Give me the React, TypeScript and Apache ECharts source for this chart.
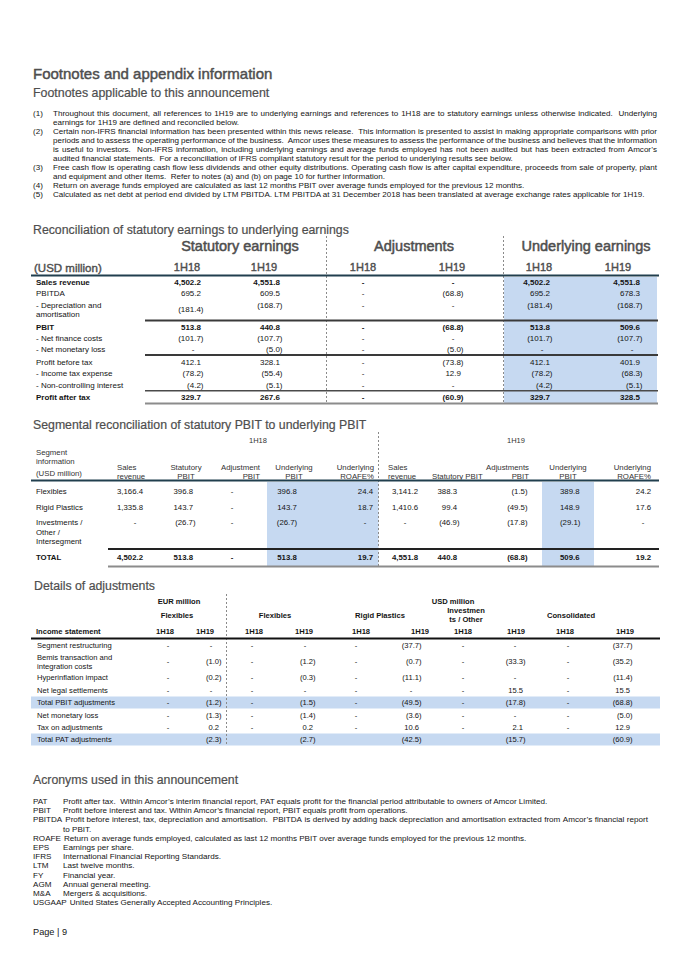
import React, { useEffect, useRef } from "react";
import * as echarts from "echarts";

// ---------------- DATA ----------------
const pageTitle = "Footnotes and appendix information";
const footnoteHeading = "Footnotes applicable to this announcement";
const footnoteMarks = ["(1)", "(2)", "(3)", "(4)", "(5)"];
const footnoteText: string[][] = [
  [
    "Throughout this document, all references to 1H19 are to underlying earnings and references to 1H18 are to statutory earnings unless otherwise indicated.  Underlying",
    "earnings for 1H19 are defined and reconciled below.",
  ],
  [
    "Certain non-IFRS financial information has been presented within this news release.  This information is presented to assist in making appropriate comparisons with prior",
    "periods and to assess the operating performance of the business.  Amcor uses these measures to assess the performance of the business and believes that the information",
    "is useful to investors.  Non-IFRS information, including underlying earnings and average funds employed has not been audited but has been extracted from Amcor’s",
    "audited financial statements.  For a reconciliation of IFRS compliant statutory result for the period to underlying results see below.",
  ],
  [
    "Free cash flow is operating cash flow less dividends and other equity distributions. Operating cash flow is after capital expenditure, proceeds from sale of property, plant",
    "and equipment and other items.  Refer to notes (a) and (b) on page 10 for further information.",
  ],
  ["Return on average funds employed are calculated as last 12 months PBIT over average funds employed for the previous 12 months."],
  ["Calculated as net debt at period end divided by LTM PBITDA. LTM PBITDA at 31 December 2018 has been translated at average exchange rates applicable for 1H19."],
];

const sectionTitles = [
  "Reconciliation of statutory earnings to underlying earnings",
  "Segmental reconciliation of statutory PBIT to underlying PBIT",
  "Details of adjustments",
  "Acronyms used in this announcement",
];
const periods = ["1H18", "1H19"];

// Table 1: reconciliation
type Cell = number | null | undefined; // null = "-", undefined = blank
const reconGroups = ["Statutory earnings", "Adjustments", "Underlying earnings"];
const reconUnit = "(USD million)";
const reconRows = [
  "Sales revenue",
  "PBITDA",
  "- Depreciation and\namortisation",
  "PBIT",
  "- Net finance costs",
  "- Net monetary loss",
  "Profit before tax",
  "- Income tax expense",
  "- Non-controlling interest",
  "Profit after tax",
];
const statutory1H18: Cell[] = [4502.2, 695.2, -181.4, 513.8, -101.7, null, 412.1, -78.2, -4.2, 329.7];
const statutory1H19: Cell[] = [4551.8, 609.5, -168.7, 440.8, -107.7, -5.0, 328.1, -55.4, -5.1, 267.6];
const adjustments1H18: Cell[] = [null, null, null, null, null, null, null, null, null, null];
const adjustments1H19: Cell[] = [null, -68.8, null, -68.8, null, -5.0, -73.8, 12.9, null, -60.9];
const underlying1H18: Cell[] = [4502.2, 695.2, -181.4, 513.8, -101.7, null, 412.1, -78.2, -4.2, 329.7];
const underlying1H19: Cell[] = [4551.8, 678.3, -168.7, 509.6, -107.7, null, 401.9, -68.3, -5.1, 328.5];

// Table 2: segmental reconciliation
const segmentUnit = ["Segment", "information", "(USD million)"];
const segmentColumnHeads = [
  ["Sales", "revenue"],
  ["Statutory", "PBIT"],
  ["Adjustment", "PBIT"],
  ["Underlying", "PBIT"],
  ["Underlying", "ROAFE%"],
  ["Sales", "revenue"],
  ["", "Statutory PBIT"],
  ["Adjustments", "PBIT"],
  ["Underlying", "PBIT"],
  ["Underlying", "ROAFE%"],
];
const segmentRows = ["Flexibles", "Rigid Plastics", "Investments /\nOther /\nIntersegment", "TOTAL"];
const salesRevenue1H18: Cell[] = [3166.4, 1335.8, null, 4502.2];
const statutoryPbit1H18: Cell[] = [396.8, 143.7, -26.7, 513.8];
const adjustmentPbit1H18: Cell[] = [null, null, null, null];
const underlyingPbit1H18: Cell[] = [396.8, 143.7, -26.7, 513.8];
const underlyingRoafe1H18: Cell[] = [24.4, 18.7, null, 19.7];
const salesRevenue1H19: Cell[] = [3141.2, 1410.6, null, 4551.8];
const statutoryPbit1H19: Cell[] = [388.3, 99.4, -46.9, 440.8];
const adjustmentPbit1H19: Cell[] = [-1.5, -49.5, -17.8, -68.8];
const underlyingPbit1H19: Cell[] = [389.8, 148.9, -29.1, 509.6];
const underlyingRoafe1H19: Cell[] = [24.2, 17.6, null, 19.2];

// Table 3: details of adjustments
const adjCurrencies = ["EUR million", "USD million"];
const adjSegments = ["Flexibles", "Flexibles", "Rigid Plastics", "Investmen\nts / Other", "Consolidated"];
const adjRowHead = "Income statement";
const adjRows = [
  "Segment restructuring",
  "Bemis transaction and\nintegration costs",
  "Hyperinflation impact",
  "Net legal settlements",
  "Total PBIT adjustments",
  "Net monetary loss",
  "Tax on adjustments",
  "Total PAT adjustments",
];
const eurFlexibles1H18: Cell[] = [null, null, null, null, null, null, null, undefined];
const eurFlexibles1H19: Cell[] = [null, -1.0, -0.2, null, -1.2, -1.3, 0.2, -2.3];
const usdFlexibles1H18: Cell[] = [null, null, null, null, null, null, null, undefined];
const usdFlexibles1H19: Cell[] = [null, -1.2, -0.3, null, -1.5, -1.4, 0.2, -2.7];
const rigidPlastics1H18: Cell[] = [null, null, null, null, null, null, null, undefined];
const rigidPlastics1H19: Cell[] = [-37.7, -0.7, -11.1, null, -49.5, -3.6, 10.6, -42.5];
const investments1H18: Cell[] = [null, null, null, null, null, null, null, undefined];
const investments1H19: Cell[] = [null, -33.3, null, 15.5, -17.8, null, 2.1, -15.7];
const consolidated1H18: Cell[] = [null, null, null, null, null, null, null, undefined];
const consolidated1H19: Cell[] = [-37.7, -35.2, -11.4, 15.5, -68.8, -5.0, 12.9, -60.9];

// Acronyms
const acronymTerms = ["PAT", "PBIT", "PBITDA", "ROAFE", "EPS", "IFRS", "LTM", "FY", "AGM", "M&A", "USGAAP"];
const acronymDefinitions: string[][] = [
  ["Profit after tax.  Within Amcor’s interim financial report, PAT equals profit for the financial period attributable to owners of Amcor Limited."],
  ["Profit before interest and tax. Within Amcor’s financial report, PBIT equals profit from operations."],
  [
    "Profit before interest, tax, depreciation and amortisation.  PBITDA is derived by adding back depreciation and amortisation extracted from Amcor’s financial report",
    "to PBIT.",
  ],
  ["Return on average funds employed, calculated as last 12 months PBIT over average funds employed for the previous 12 months."],
  ["Earnings per share."],
  ["International Financial Reporting Standards."],
  ["Last twelve months."],
  ["Financial year."],
  ["Annual general meeting."],
  ["Mergers & acquisitions."],
  ["United States Generally Accepted Accounting Principles."],
];
const pageFooter = "Page | 9";

// ---------------- HELPERS ----------------
const FONT = '"Liberation Sans", Arial, Helvetica, sans-serif';
const GREY = "#4e4e4e";
const INK = "#141414";
const BLUE = "#c6d9f1";

let measureCtx: CanvasRenderingContext2D | null = null;
function textWidth(s: string, size: number, bold = false): number {
  if (!measureCtx) measureCtx = document.createElement("canvas").getContext("2d");
  if (!measureCtx) return s.length * size * 0.5;
  measureCtx.font = `${bold ? "bold " : ""}${size}px "Liberation Sans"`;
  return measureCtx.measureText(s).width;
}

function fmt(v: Cell): string {
  if (v === undefined) return "";
  if (v === null) return "-";
  const s = Math.abs(v).toLocaleString("en-US", { minimumFractionDigits: 1, maximumFractionDigits: 1 });
  return v < 0 ? `(${s})` : s;
}

type Opt = { fill?: string; bold?: boolean; align?: string; heavy?: number };
function txt(text: string, x: number, y: number, size: number, o: Opt = {}) {
  const fill = o.fill ?? INK;
  const style: any = {
    text,
    fill,
    fontSize: size,
    fontFamily: FONT,
    fontWeight: o.bold ? "bold" : "normal",
    align: o.align ?? "left",
    verticalAlign: "middle",
  };
  if (o.heavy) {
    style.stroke = fill;
    style.lineWidth = o.heavy;
  }
  return { type: "text", x, y, silent: true, style };
}
function hline(x1: number, x2: number, y: number, w: number, color: string) {
  return { type: "line", silent: true, shape: { x1, y1: y, x2, y2: y }, style: { stroke: color, lineWidth: w } };
}
function vdash(x: number, y1: number, y2: number) {
  return {
    type: "line",
    silent: true,
    shape: { x1: x, y1, x2: x, y2 },
    style: { stroke: "#8a8a8a", lineWidth: 1, lineDash: [2, 2] },
  };
}
function box(x: number, y: number, w: number, h: number, fill: string) {
  return { type: "rect", silent: true, shape: { x, y, width: w, height: h }, style: { fill } };
}
type Col = { x: number; align: string };
function numCell(v: Cell, col: Col, y: number, size: number, bold = false): any[] {
  if (v === undefined) return [];
  const s = fmt(v);
  if (col.align === "right") {
    if (v === null) return [txt("-", col.x - 8, y, size, { bold, align: "center" })];
    return [txt(s, v < 0 ? col.x + 2.5 : col.x, y, size, { bold, align: "right" })];
  }
  return [txt(s, col.x, y, size, { bold, align: col.align })];
}
function justify(line: string, x: number, y: number, right: number, size: number): any[] {
  const tokens = line.split(" ");
  const gaps = tokens.length - 1;
  const sp = textWidth(" ", size);
  const natural = tokens.reduce((a, t) => a + textWidth(t, size), 0) + gaps * sp;
  const extra = gaps > 0 ? (right - x - natural) / gaps : 0;
  const out: any[] = [];
  let cx = x;
  tokens.forEach((t, i) => {
    if (t) out.push(txt(t, cx, y, size));
    cx += textWidth(t, size) + (i < gaps ? sp + extra : 0);
  });
  return out;
}

// ---------------- BUILD ----------------
function buildElements(): any[] {
  const el: any[] = [];
  const H = { fill: GREY, heavy: 0.2 };

  // Page headings
  el.push(txt(pageTitle, 33, 73, 15, { ...H, heavy: 0.45 }));
  el.push(txt(footnoteHeading, 33, 93, 12.4, H));

  // Footnotes
  const FN = 8.05;
  let ly = 113;
  footnoteText.forEach((lines, i) => {
    el.push(txt(footnoteMarks[i], 33, ly, FN));
    lines.forEach((line, j) => {
      if (j < lines.length - 1) el.push(...justify(line, 53, ly, 657, FN));
      else el.push(txt(line, 53, ly, FN));
      ly += 9.1;
    });
  });

  const LX = 36;

  // ---------- Table 1 ----------
  el.push(txt(sectionTitles[0], 33, 230, 12.3, H));
  el.push(box(504, 277, 153, 127, BLUE));
  [326.5, 503.5].forEach((x) => el.push(vdash(x, 236, 404)));
  const gX = [240, 414, 586];
  reconGroups.forEach((g, i) => el.push(txt(g, gX[i], 246, 14.5, { ...H, heavy: 0.5, align: "center" })));
  el.push(txt(reconUnit, 34, 268, 11.5, { ...H, heavy: 0.4 }));
  const pX = [187, 264, 363, 452, 539, 618];
  pX.forEach((x, i) => el.push(txt(periods[i % 2], x, 266.5, 11, { ...H, heavy: 0.4, align: "center" })));
  el.push(hline(31, 659, 275.5, 2, "#213f4e"));

  const T1 = 8;
  const r1Y = [282.5, 293.5, 305.5, 327.5, 338.5, 349.5, 362, 373.5, 385, 397];
  const bold1 = new Set([0, 3, 9]);
  const cols1: Col[] = [
    { x: 201, align: "right" },
    { x: 280, align: "right" },
    { x: 371, align: "right" },
    { x: 461, align: "right" },
    { x: 550, align: "right" },
    { x: 640, align: "right" },
  ];
  const series1 = [statutory1H18, statutory1H19, adjustments1H18, adjustments1H19, underlying1H18, underlying1H19];
  reconRows.forEach((label, r) => {
    const b = bold1.has(r);
    label.split("\n").forEach((ln, k) => el.push(txt(ln, LX, r1Y[r] + k * 9, T1, { bold: b })));
    series1.forEach((s, c) => {
      const y = r === 2 && c === 0 ? r1Y[r] + 4 : r1Y[r];
      el.push(...numCell(s[r], cols1[c], y, T1, b));
    });
  });
  el.push(hline(145, 658, 320.5, 2, "#3a3a3a"));
  el.push(hline(145, 658, 355, 2, "#3a3a3a"));
  el.push(hline(145, 658, 390.8, 1.4, "#4a4a4a"));
  el.push(hline(145, 658, 403.5, 2, "#8c8c8c"));

  // ---------- Table 2 ----------
  el.push(txt(sectionTitles[1], 33, 425, 12.3, H));
  el.push(box(267, 482, 111.5, 84.5, BLUE));
  el.push(box(542, 482, 52, 84.5, BLUE));
  el.push(vdash(378.5, 432, 567));
  el.push(txt(periods[0], 258, 440, 7.5, { fill: "#333", align: "center" }));
  el.push(txt(periods[1], 516, 440, 7.5, { fill: "#333", align: "center" }));
  const uY = [452, 461.5, 473];
  segmentUnit.forEach((s, i) => el.push(txt(s, LX, uY[i], 7.8, { fill: "#333" })));
  const headCols: Col[] = [
    { x: 117, align: "left" },
    { x: 186, align: "center" },
    { x: 260, align: "right" },
    { x: 294, align: "center" },
    { x: 374, align: "right" },
    { x: 388, align: "left" },
    { x: 432, align: "left" },
    { x: 529, align: "right" },
    { x: 568, align: "center" },
    { x: 651, align: "right" },
  ];
  segmentColumnHeads.forEach((h, i) => {
    h.forEach((ln, k) => {
      if (ln) el.push(txt(ln, headCols[i].x, 467 + k * 9.5, 7.8, { fill: "#333", align: headCols[i].align }));
    });
  });
  el.push(hline(31, 659, 480.5, 2, "#213f4e"));
  const T2 = 7.8;
  const r2Y = [491, 507, 522.5, 557.5];
  const cols2: Col[] = [
    { x: 143, align: "right" },
    { x: 193, align: "right" },
    { x: 232, align: "center" },
    { x: 287, align: "center" },
    { x: 373, align: "right" },
    { x: 405, align: "center" },
    { x: 457, align: "right" },
    { x: 525, align: "right" },
    { x: 560, align: "left" },
    { x: 651, align: "right" },
  ];
  const series2 = [
    salesRevenue1H18,
    statutoryPbit1H18,
    adjustmentPbit1H18,
    underlyingPbit1H18,
    underlyingRoafe1H18,
    salesRevenue1H19,
    statutoryPbit1H19,
    adjustmentPbit1H19,
    underlyingPbit1H19,
    underlyingRoafe1H19,
  ];
  segmentRows.forEach((label, r) => {
    const b = r === segmentRows.length - 1;
    label.split("\n").forEach((ln, k) => el.push(txt(ln, LX, r2Y[r] + k * 9.5, T2, { bold: b })));
    series2.forEach((s, c) => el.push(...numCell(s[r], cols2[c], r2Y[r], T2, b)));
  });
  el.push(hline(108, 659, 549, 2, "#222"));
  el.push(hline(108, 659, 566.5, 2, "#8c8c8c"));

  // ---------- Table 3 ----------
  el.push(txt(sectionTitles[2], 34, 586, 12.3, H));
  const bandRows = [4, 7];
  const r3Y = [645.5, 657, 677.5, 690, 702.5, 715, 727.5, 739.5];
  bandRows.forEach((r) => el.push(box(31, r3Y[r] - 6, 629, 12, BLUE)));
  el.push(vdash(226.5, 594, 746));
  const T3 = 7.6;
  el.push(txt(adjCurrencies[0], 179, 601, T3, { bold: true, align: "center" }));
  el.push(txt(adjCurrencies[1], 453, 601, T3, { bold: true, align: "center" }));
  const segX = [177, 275, 380, 466, 571];
  adjSegments.forEach((s, i) => {
    const lines = s.split("\n");
    lines.forEach((ln, k) =>
      el.push(txt(ln, segX[i], 615 - (lines.length - 1) * 4.8 + k * 9.6, T3, { bold: true, align: "center" }))
    );
  });
  el.push(txt(adjRowHead, LX, 631, T3, { bold: true }));
  const p3X = [165, 205, 254, 304, 361, 420, 463, 516, 565, 625];
  p3X.forEach((x, i) => el.push(txt(periods[i % 2], x, 631, T3, { bold: true, align: "center" })));
  el.push(hline(31, 660, 638.5, 2, "#111"));
  const cols3: Col[] = [
    { x: 168, align: "center" },
    { x: 219, align: "right" },
    { x: 252, align: "center" },
    { x: 313, align: "right" },
    { x: 356, align: "center" },
    { x: 419, align: "right" },
    { x: 463, align: "center" },
    { x: 523, align: "right" },
    { x: 568, align: "center" },
    { x: 630, align: "right" },
  ];
  const series3 = [
    eurFlexibles1H18,
    eurFlexibles1H19,
    usdFlexibles1H18,
    usdFlexibles1H19,
    rigidPlastics1H18,
    rigidPlastics1H19,
    investments1H18,
    investments1H19,
    consolidated1H18,
    consolidated1H19,
  ];
  adjRows.forEach((label, r) => {
    const lines = label.split("\n");
    lines.forEach((ln, k) => el.push(txt(ln, LX + 1, r3Y[r] + k * 9.5, T3)));
    const vy = r3Y[r] + (lines.length - 1) * 4.75;
    series3.forEach((s, c) => el.push(...numCell(s[r], cols3[c], vy, T3)));
  });

  // ---------- Acronyms ----------
  el.push(txt(sectionTitles[3], 33, 780, 12.3, H));
  const AC = 8.1;
  let ay = 801.5;
  acronymTerms.forEach((term, i) => {
    el.push(txt(term, 33, ay, AC));
    const dx = Math.max(63, 33 + textWidth(term, AC) + 3);
    const lines = acronymDefinitions[i];
    lines.forEach((ln, j) => {
      if (j < lines.length - 1) el.push(...justify(ln, dx, ay, 648, AC));
      else el.push(txt(ln, j === 0 ? dx : 63, ay, AC));
      ay += 9.2;
    });
  });

  // Footer
  el.push(txt(pageFooter, 33, 932, 9.2, { fill: INK }));
  return el;
}

export default function App() {
  const ref = useRef<HTMLDivElement>(null);
  useEffect(() => {
    if (!ref.current) return;
    const chart = echarts.init(ref.current, null, { renderer: "svg", width: 680, height: 962 });
    chart.setOption({ animation: false, graphic: buildElements() });
    return () => chart.dispose();
  }, []);
  return (
    <div
      ref={ref}
      style={{ position: "absolute", left: 0, top: 0, width: 680, height: 962, background: "#ffffff" }}
    />
  );
}
